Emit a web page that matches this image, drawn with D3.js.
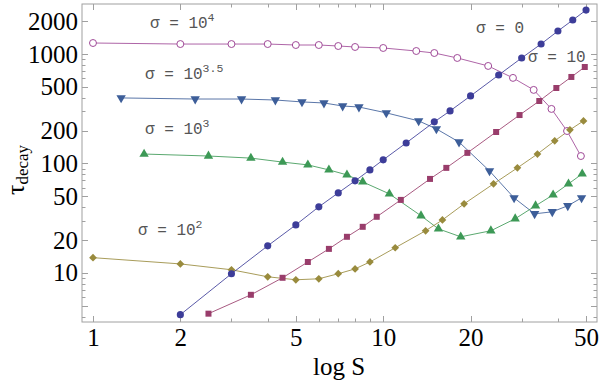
<!DOCTYPE html>
<html>
<head>
<meta charset="utf-8">
<script src="https://cdn.jsdelivr.net/npm/d3@7"></script>
<style>
    body { margin: 0; background: #fff; }
    svg { display: block; }
</style>
</head>
<body>
<svg id="chart"></svg>
<script>
// values (S, tau) for each sigma
const sigma0S = [2, 3, 4, 5, 6, 7, 8, 9, 10, 12, 15, 17, 20, 25, 30, 35, 40, 45, 50]
const sigma0Tau = [4.16, 9.84, 17.7, 27.5, 40.2, 53.9, 69.4, 87.4, 108, 154, 240, 302, 414, 643, 920, 1234, 1622, 2042, 2517]

const sigma10S = [2.5, 3.5, 4.5, 5.5, 6.5, 7.5, 8.5, 9.5, 11.5, 14.5, 16.5, 19.5, 24.5, 29.5, 34.5, 39.5, 44.5, 49.5]
const sigma10Tau = [4.25, 6.32, 9.04, 12.6, 16.6, 21.4, 26.4, 32.6, 46.5, 72.3, 91.2, 125, 194, 277, 372, 489, 617, 761]

const sigma100S = [1, 2, 3, 4, 5, 6, 7, 8, 9, 11, 14, 16, 19, 24, 29, 34, 39, 44, 49]
const sigma100Tau = [13.8, 12.1, 10.7, 9.23, 8.67, 8.85, 9.84, 10.9, 12.6, 17.0, 24.3, 30.5, 42.8, 65.2, 91.2, 122, 161, 203, 245]

const sigma1e3S = [1.5, 2.5, 3.5, 4.5, 5.5, 6.5, 7.5, 8.5, 10.5, 13.5, 15.5, 18.5, 23.5, 28.5, 33.5, 38.5, 43.5, 48.5]
const sigma1e3Tau = [122, 117, 112, 103, 97.1, 87.4, 78.7, 67.9, 52.8, 33.3, 25.3, 21.4, 24.3, 31.3, 41.1, 51.7, 65.2, 80.4]

const sigma1e35S = [1.25, 2.25, 3.25, 4.25, 5.25, 6.25, 7.25, 8.25, 10.25, 13.25, 15.25, 18.25, 23.25, 28.25, 33.25, 38.25, 43.25, 48.25]
const sigma1e35Tau = [397, 388, 388, 380, 365, 357, 335, 328, 290, 245, 207, 157, 85.5, 48.5, 34.7, 36.2, 41.1, 48.5]

const sigma1e4S = [1, 2, 3, 4, 5, 6, 7, 8, 10, 13, 15, 18, 23, 28, 33, 38, 43, 48]
const sigma1e4Tau = [1260, 1233, 1233, 1233, 1208, 1208, 1183, 1159, 1135, 1065, 1021, 920, 778, 605, 470, 315, 198, 117]

const xTickValues = [1, 2, 5, 10, 20, 50]
const yTickValues = [10, 20, 50, 100, 200, 500, 1000, 2000]

const chart = { width: 600, height: 384 }
const frame = { left: 82, right: 597, top: 4, bottom: 322 }

const svg = d3.select("#chart")
    .attr("width", chart.width)
    .attr("height", chart.height)

const scaleX = d3.scaleLog()
    .domain([0.9165, 54.54])
    .range([frame.left, frame.right])

const scaleY = d3.scaleLog()
    .domain([3.567, 2862])
    .range([frame.bottom, frame.top])

// minor ticks: every integer multiple inside each decade
function minorTicks(domain) {
    let out = []
    for (let e = -1; e <= 4; e++) {
        for (let m = 1; m <= 9; m++) {
            let v = m * Math.pow(10, e)
            if (v >= domain[0] && v <= domain[1]) out.push(v)
        }
    }
    return out
}

const frameColor = "#a0a0a0"

// frame box
svg.append("rect")
    .attr("x", frame.left)
    .attr("y", frame.top)
    .attr("width", frame.right - frame.left)
    .attr("height", frame.bottom - frame.top)
    .attr("fill", "none")
    .attr("stroke", frameColor)
    .attr("stroke-width", 1)

const xMinor = minorTicks(scaleX.domain())
const yMinor = minorTicks(scaleY.domain())
const isMajor = v => [1, 2, 5].includes(Math.round(v / Math.pow(10, Math.floor(Math.log10(v) + 1e-9))))

const ticks = svg.append("g").attr("stroke", frameColor).attr("stroke-width", 1)
xMinor.forEach(v => {
    let x = Math.round(scaleX(v)) + 0.5
    let len = isMajor(v) ? 6 : 3.5
    ticks.append("line").attr("x1", x).attr("x2", x).attr("y1", frame.bottom).attr("y2", frame.bottom - len)
    ticks.append("line").attr("x1", x).attr("x2", x).attr("y1", frame.top).attr("y2", frame.top + len)
})
yMinor.forEach(v => {
    let y = Math.round(scaleY(v)) + 0.5
    let len = isMajor(v) ? 6 : 3.5
    ticks.append("line").attr("x1", frame.left).attr("x2", frame.left + len).attr("y1", y).attr("y2", y)
    ticks.append("line").attr("x1", frame.right).attr("x2", frame.right - len).attr("y1", y).attr("y2", y)
})

// tick labels through d3 axes, with the axis lines hidden
const xAxis = d3.axisBottom(scaleX).tickValues(xTickValues).tickFormat(d3.format("d")).tickSize(0).tickPadding(6)
const yAxis = d3.axisLeft(scaleY).tickValues(yTickValues).tickFormat(d3.format("d")).tickSize(0).tickPadding(3)

svg.append("g")
    .attr("transform", "translate(0," + frame.bottom + ")")
    .call(xAxis)
    .call(g => g.select(".domain").remove())
    .selectAll("text")
    .attr("font-family", "'Liberation Serif', serif")
    .attr("font-size", 25)
    .attr("fill", "#000")

svg.append("g")
    .attr("transform", "translate(" + (frame.left - 1) + ",0)")
    .call(yAxis)
    .call(g => g.select(".domain").remove())
    .selectAll("text")
    .attr("font-family", "'Liberation Serif', serif")
    .attr("font-size", 25)
    .attr("fill", "#000")

// axis titles
svg.append("text")
    .attr("x", 339)
    .attr("y", 375)
    .attr("text-anchor", "middle")
    .attr("font-family", "'Liberation Serif', serif")
    .attr("font-size", 25)
    .text("log S")

const yTitle = svg.append("text")
    .attr("transform", "translate(24,170) rotate(-90)")
    .attr("text-anchor", "middle")
    .attr("font-family", "'Liberation Serif', serif")
yTitle.append("tspan").attr("font-size", 26).text("τ")
yTitle.append("tspan").attr("font-size", 17).attr("dy", 4).text("decay")

// series
const series = [
    { s: sigma1e4S, t: sigma1e4Tau, color: "#a04a98", shape: "open" },
    { s: sigma1e35S, t: sigma1e35Tau, color: "#3d5e99", shape: "down" },
    { s: sigma1e3S, t: sigma1e3Tau, color: "#3d9956", shape: "up" },
    { s: sigma100S, t: sigma100Tau, color: "#998b3d", shape: "diamond" },
    { s: sigma10S, t: sigma10Tau, color: "#993d6b", shape: "square" },
    { s: sigma0S, t: sigma0Tau, color: "#3d3d99", shape: "circle" }
]

const line = d3.line()
    .x(d => scaleX(d.x))
    .y(d => scaleY(d.y))

series.forEach(sr => {
    let pts = sr.s.map((v, i) => ({ x: v, y: sr.t[i] }))
    svg.append("path")
        .datum(pts)
        .attr("fill", "none")
        .attr("stroke", sr.color)
        .attr("stroke-width", 1)
        .attr("stroke-opacity", 0.85)
        .attr("d", line)
})

series.forEach(sr => {
    let pts = sr.s.map((v, i) => ({ x: v, y: sr.t[i] }))
    let g = svg.append("g")
    let sym
    let rot = 0
    if (sr.shape === "circle") sym = d3.symbol(d3.symbolCircle, 40)
    else if (sr.shape === "open") sym = d3.symbol(d3.symbolCircle, 38)
    else if (sr.shape === "square") sym = d3.symbol(d3.symbolSquare, 36)
    else if (sr.shape === "diamond") { sym = d3.symbol(d3.symbolSquare, 30); rot = 45 }
    else if (sr.shape === "up") sym = d3.symbol(d3.symbolTriangle, 38)
    else { sym = d3.symbol(d3.symbolTriangle, 38); rot = 180 }
    g.selectAll("path")
        .data(pts)
        .enter()
        .append("path")
        .attr("d", sym)
        .attr("transform", d => "translate(" + scaleX(d.x) + "," + scaleY(d.y) + ") rotate(" + rot + ")")
        .attr("fill", sr.shape === "open" ? "#fff" : sr.color)
        .attr("stroke", sr.shape === "open" ? sr.color : "none")
        .attr("stroke-width", 1)
})

// sigma annotations
const labelFont = "'Liberation Mono', monospace"
function sigmaLabel(x, y, base, sup) {
    let t = svg.append("text")
        .attr("x", x)
        .attr("y", y)
        .attr("font-family", labelFont)
        .attr("font-size", 16)
        .attr("fill", "#555")
    t.append("tspan").text(base)
    if (sup) t.append("tspan").attr("font-size", 11.5).attr("dy", -7).text(sup)
}
sigmaLabel(150, 28, "σ = 10", "4")
sigmaLabel(145, 79, "σ = 10", "3.5")
sigmaLabel(145, 134, "σ = 10", "3")
sigmaLabel(138, 235, "σ = 10", "2")
sigmaLabel(476, 33, "σ = 0")
sigmaLabel(528, 62, "σ = 10")
</script>
</body>
</html>
